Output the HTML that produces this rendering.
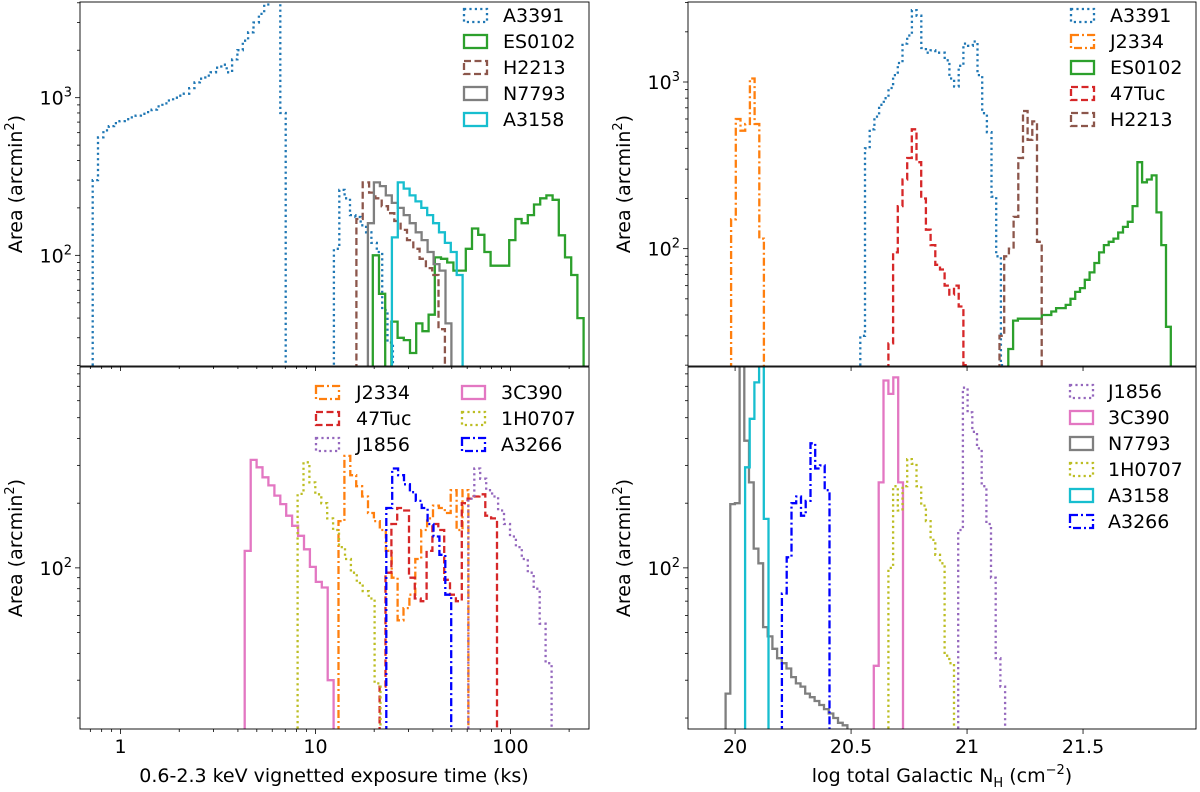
<!DOCTYPE html>
<html><head><meta charset="utf-8"><style>
html,body{margin:0;padding:0;background:#fff;}
svg{display:block;font-family:"DejaVu Sans","Liberation Sans",sans-serif;}
</style></head><body>
<svg id="fig" width="1200" height="792" viewBox="0 0 1200 792" xmlns="http://www.w3.org/2000/svg"></svg>
<script>
// ---- data (left: log10 exposure ks start, log width; right: log NH start, width) ----
const tlA3391 = [300,560,620,660,690,710,730,750,770,790,810,840,880,920,960,1000,1030,1060,1150,1250,1320,1380,1450,1550,1620,1450,1750,2000,2300,2600,3000,3400,3900,4200,4500,800,0,0,0,0,0,0,0,0,0,110,260,230,180,175,155,140,120,105,45,28];
const tlES0102 = [100,57,0,38,30,29,24,37,33,42,97,95,90,80,80,110,148,135,105,86,86,86,125,170,160,180,210,230,240,225,134,97,75,40];
const tlH2213 = [170,290,250,230,205,185,165,145,125,110,95,83,75,34];
const tlN7793 = [160,290,275,240,215,200,180,160,140,125,105,88,80,37];
const tlA3158 = [130,290,265,240,220,200,180,160,140,120,105,75];
const trJ2334 = [150,600,510,560,1050,560,115];
const trA3391 = [30,400,520,620,730,800,920,1100,1300,1700,1900,2700,2500,1600,1500,1550,1500,1500,1350,1050,940,1250,1700,1650,1750,1100,650,500,205,90,20];
const trES0102 = [25,37,38,38,38,38,38,40,40,42,44,44,46,50,55,58,65,72,82,95,105,110,115,125,135,145,180,330,250,260,275,165,105,34];
const tr47Tuc = [27,95,180,260,350,520,330,200,130,105,80,75,60,53,60,45,20];
const trH2213 = [30,90,100,155,350,670,450,580,110];
const blJ2334 = [165,332,270,240,215,180,165,150,120,90,57,65,75,110,150,170,195,190,180,230,150,230];
const bl47Tuc = [28,95,160,190,185,90,72,70,120,160,150,88,75,70,200,210,215,220,175,170];
const blJ1856 = [210,290,260,230,215,185,160,140,125,110,95,80,55,36,15];
const bl3C390 = [120,318,294,264,242,217,198,175,157,141,122,101,86,81,30];
const bl1H0707 = [221,310,250,220,200,170,150,125,110,95,85,78,72,29];
const blA3266 = [190,290,270,245,225,205,190,160,140,115,75];
const brJ1856 = [150,690,530,430,360,240,160,90,38,28];
const br3C390 = [35,250,745,645,770,250];
const brN7793 = [26,198,200,1000,391,250,123,105,53,48,42,38,36,34,31,29,28,26,25,24,23,22,21,20,19,18.5];
const br1H0707 = [100,240,185,240,321,305,240,195,165,135,115,105,39,36];
const brA3158 = [294,494,730,900,169];
const brA3266 = [76,112,200,215,175,205,380,290,300,230];
const leftTicks = [0,1,2];
const leftTickLabels = ['1','10','100'];
const rightTicks = [20,20.5,21,21.5];
const rightTickLabels = ['20','20.5','21','21.5'];

const C={blue:'#1f77b4',orange:'#ff7f0e',green:'#2ca02c',red:'#d62728',purple:'#9467bd',brown:'#8c564b',pink:'#e377c2',gray:'#7f7f7f',olive:'#bcbd22',cyan:'#17becf',pblue:'#0000ff'};
const D={solid:'',dot:'2.2,3.2',dash:'7,3.5',dashdot:'8,3,2,3'};
const NS='http://www.w3.org/2000/svg';
const svg=document.getElementById('fig');
function mk(t,a,p){const e=document.createElementNS(NS,t);for(const k in a)e.setAttribute(k,a[k]);(p||svg).appendChild(e);return e;}

const panels=[
 {id:'top-left',x0:80,x1:589,y0:2,y1:366,xd:[-0.208,2.403],yd:[1.298,3.607],side:'L',xlab:false},
 {id:'top-right',x0:688,x1:1196,y0:2,y1:366,xd:[19.797,21.987],yd:[1.296,3.48],side:'R',xlab:false},
 {id:'bottom-left',x0:80,x1:589,y0:367,y1:729,xd:[-0.208,2.403],yd:[1.25,2.935],side:'L',xlab:true},
 {id:'bottom-right',x0:688,x1:1196,y0:367,y1:729,xd:[19.797,21.987],yd:[1.25,2.935],side:'R',xlab:true}
];
function sx(p,v){return p.x0+(v-p.xd[0])/(p.xd[1]-p.xd[0])*(p.x1-p.x0);}
function sy(p,v){if(v<=0)return p.y1+5;const l=Math.log10(v);return p.y1-(l-p.yd[0])/(p.yd[1]-p.yd[0])*(p.y1-p.y0);}

const series={
 'top-left':[
  ['A3391',tlA3391,-0.143,0.0275,C.blue,'dot'],
  ['ES0102',tlES0102,1.294,0.0318,C.green,'solid'],
  ['H2213',tlH2213,1.210,0.0324,C.brown,'dash'],
  ['N7793',tlN7793,1.269,0.0306,C.gray,'solid'],
  ['A3158',tlA3158,1.392,0.0302,C.cyan,'solid']],
 'top-right':[
  ['A3391',trA3391,20.540,0.0202,C.blue,'dot'],
  ['J2334',trJ2334,19.983,0.0202,C.orange,'dashdot'],
  ['ES0102',trES0102,21.178,0.0206,C.green,'solid'],
  ['47Tuc',tr47Tuc,20.661,0.0202,C.red,'dash'],
  ['H2213',trH2213,21.140,0.0202,C.brown,'dash']],
 'bottom-left':[
  ['J2334',blJ2334,1.118,0.0303,C.orange,'dashdot'],
  ['47Tuc',bl47Tuc,1.329,0.0301,C.red,'dash'],
  ['J1856',blJ1856,1.784,0.0305,C.purple,'dot'],
  ['3C390',bl3C390,0.637,0.0304,C.pink,'solid'],
  ['1H0707',bl1H0707,0.908,0.0304,C.olive,'dot'],
  ['A3266',blA3266,1.363,0.0303,C.pblue,'dashdot']],
 'bottom-right':[
  ['J1856',brJ1856,20.962,0.0202,C.purple,'dot'],
  ['3C390',br3C390,20.598,0.0210,C.pink,'solid'],
  ['N7793',brN7793,19.959,0.0202,C.gray,'solid'],
  ['1H0707',br1H0707,20.661,0.0202,C.olive,'dot'],
  ['A3158',brA3158,20.043,0.0202,C.cyan,'solid'],
  ['A3266',brA3266,20.202,0.0205,C.pblue,'dashdot']]
};
const legendPos={
 'top-left':[{bx:464,tx:503,y:15}],
 'top-right':[{bx:1071,tx:1110,y:15}],
 'bottom-left':[{bx:316,tx:356,y:392},{bx:462,tx:501,y:392}],
 'bottom-right':[{bx:1070,tx:1108,y:391}]
};

panels.forEach(p=>{
 const g=mk('g',{});
 
 
 const cp=mk('clipPath',{id:'clip-'+p.id},g);
 mk('rect',{x:p.x0,y:p.y0,width:p.x1-p.x0,height:p.y1-p.y0},cp);
 const sg=mk('g',{'clip-path':'url(#clip-'+p.id+')'},g);
 series[p.id].forEach(s=>{
  const [name,vals,start,w,col,st]=s;
  let d='M'+sx(p,start).toFixed(1)+','+(p.y1+5);
  vals.forEach((v,i)=>{const xa=sx(p,start+i*w),xb=sx(p,start+(i+1)*w),y=sy(p,v).toFixed(1);d+=' L'+xa.toFixed(1)+','+y+' L'+xb.toFixed(1)+','+y;});
  d+=' L'+sx(p,start+vals.length*w).toFixed(1)+','+(p.y1+5);
  const path=mk('path',{d:d,fill:'none',stroke:col,'stroke-width':2.3,'stroke-dasharray':D[st]},sg);
  
  
 });
 const fr=mk('rect',{x:p.x0,y:p.y0,width:p.x1-p.x0,height:p.y1-p.y0,fill:'none',stroke:'#000','stroke-width':0.9},g);
 
 
 for(let e=1;e<=3;e++){for(let m=1;m<=9;m++){const v=m*Math.pow(10,e);const l=Math.log10(v);if(l<p.yd[0]||l>p.yd[1])continue;const y=sy(p,v);
  mk('line',{x1:p.x0,x2:p.x0-(m===1?5:3),y1:y,y2:y,stroke:'#000','stroke-width':0.8},g);
  if(m===1){const t=mk('text',{x:p.x0-8,y:y+7,'text-anchor':'end','font-size':19},g);t.innerHTML='10<tspan dy="-8" font-size="13">'+e+'</tspan>';
   }}}
 const yl=mk('text',{x:0,y:0,'font-size':19,'text-anchor':'middle',transform:'translate('+(p.side==='L'?22:630)+','+((p.y0+p.y1)/2)+') rotate(-90)'},g);
 yl.innerHTML='Area (arcmin<tspan dy="-8" font-size="13">2</tspan><tspan dy="8">)</tspan>';
 
 if(p.side==='L'){
  for(let e=-1;e<=2;e++){for(let m=1;m<=9;m++){const l=e+Math.log10(m);if(l<p.xd[0]||l>p.xd[1])continue;const x=sx(p,l);mk('line',{x1:x,x2:x,y1:p.y1,y2:p.y1+(m===1?5:3),stroke:'#000','stroke-width':0.8},g);}}
  if(p.xlab)leftTicks.forEach((l,i)=>{const t=mk('text',{x:sx(p,l),y:p.y1+24,'text-anchor':'middle','font-size':19},g);t.textContent=leftTickLabels[i];});
 } else {
  rightTicks.forEach((l,i)=>{const x=sx(p,l);mk('line',{x1:x,x2:x,y1:p.y1,y2:p.y1+5,stroke:'#000','stroke-width':0.8},g);
   if(p.xlab){const t=mk('text',{x:x,y:p.y1+24,'text-anchor':'middle','font-size':19},g);t.textContent=rightTickLabels[i];}});
 }
 const lg=mk('g',{},g);
 
 const cols=legendPos[p.id];const ss=series[p.id];const perCol=Math.ceil(ss.length/cols.length);
 ss.forEach((s,i)=>{const c=cols[Math.floor(i/perCol)];const y=c.y+(i%perCol)*26;
  const eg=mk('g',{},lg);
  mk('rect',{x:c.bx,y:y-6,width:23,height:13,fill:'none',stroke:s[4],'stroke-width':2.3,'stroke-dasharray':D[s[5]]},eg);
  const t=mk('text',{x:c.tx,y:y+7,'font-size':19},eg);t.textContent=s[0];});
});
const xl1=mk('text',{x:334,y:782,'text-anchor':'middle','font-size':19});xl1.textContent='0.6-2.3 keV vignetted exposure time (ks)';

const xl2=mk('text',{x:942,y:782,'text-anchor':'middle','font-size':19});xl2.innerHTML='log total Galactic N<tspan dy="5" font-size="13">H</tspan><tspan dy="-5"> (cm</tspan><tspan dy="-8" font-size="13">−2</tspan><tspan dy="8">)</tspan>';

</script>
</body></html>
